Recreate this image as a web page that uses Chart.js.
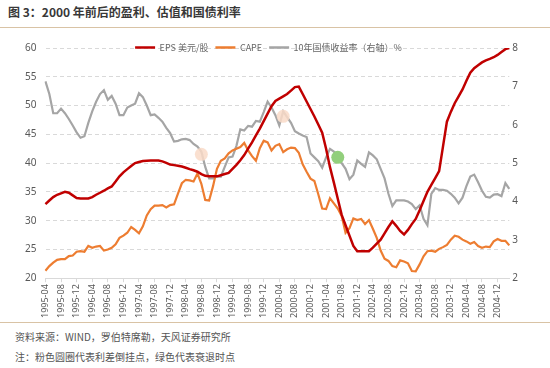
<!doctype html>
<html lang="zh-CN">
<head>
<meta charset="utf-8">
<title>图3 2000年前后的盈利、估值和国债利率</title>
<script src="https://cdn.jsdelivr.net/npm/chart.js"></script>
<style>
  html, body { margin: 0; padding: 0; background: #fff; }
  body { width: 550px; height: 368px; position: relative; overflow: hidden;
         font-family: "Noto Sans CJK SC", "Noto Sans", sans-serif; }
  #title { position: absolute; left: 8px; top: 3px; font-size: 12px; font-weight: bold; color: #383838; }
  .rule { position: absolute; left: 0; width: 550px; height: 1px; background: #d9c3a5; }
  #chartbox { position: absolute; left: 0; top: 30px; width: 550px; height: 290px; }
  .note { position: absolute; left: 15px; font-size: 10px; color: #555; }
</style>
</head>
<body>
<div id="title">图 3：2000 年前后的盈利、估值和国债利率</div>
<div class="rule" style="top:27px"></div>
<div id="chartbox"><canvas id="c"></canvas></div>
<div class="rule" style="top:322px"></div>
<div class="note" style="top:329px">资料来源：WIND，罗伯特席勒，天风证券研究所</div>
<div class="note" style="top:349px">注：粉色圆圈代表利差倒挂点，绿色代表衰退时点</div>
<script>
// monthly, 1995-04 .. 2005-03
const months = [];
for (let k = 0; k < 120; k++) {
  const m = (3 + k) % 12 + 1, y = 1995 + Math.floor((3 + k) / 12);
  months.push(y + '-' + (m < 10 ? '0' + m : m));
}

const eps = [32.86,33.5,34.1,34.5,34.75,35.0,34.85,34.4,33.95,33.87,
  33.87,33.87,34.1,34.5,34.85,35.2,35.6,35.95,36.8,37.7,
  38.4,38.95,39.5,40.0,40.2,40.35,40.42,40.44,40.44,40.44,
  40.3,40.05,39.75,39.65,39.55,39.4,39.2,38.95,38.75,38.5,
  38.1,37.8,37.7,37.7,37.7,37.9,38.1,38.3,39.0,39.7,
  40.5,41.4,42.5,43.6,44.8,46.0,47.3,48.6,49.9,50.8,
  51.2,51.6,52.0,52.6,53.2,53.3,52.0,50.7,49.4,48.1,
  46.7,45.3,42.5,39.3,36.6,33.8,31.0,29.2,27.4,25.6,
  24.7,24.7,24.7,24.7,25.3,26.0,26.7,27.8,28.9,29.9,
  29.1,28.2,27.6,28.4,29.4,30.3,31.8,33.4,35.0,36.2,
  37.4,38.6,42.9,47.2,48.9,50.4,51.6,52.8,54.3,55.7,
  56.5,57.0,57.5,57.85,58.1,58.4,58.8,59.3,59.8,60.0];

const cape = [21.3,22.1,22.7,23.2,23.3,23.3,23.85,23.95,24.6,24.7,
  24.6,25.6,25.3,25.5,25.6,24.8,25.0,25.3,25.9,27.0,
  27.4,27.9,28.9,28.4,27.8,29.0,30.9,32.0,32.6,32.6,
  32.7,32.3,32.7,32.85,34.7,36.5,37.1,37.0,36.8,38.2,
  36.4,33.6,33.5,36.0,39.0,40.4,40.8,41.7,42.2,42.5,
  42.8,43.5,42.2,41.2,40.4,42.6,43.9,43.6,42.2,43.0,
  43.3,41.9,42.4,42.7,42.6,41.8,39.8,38.5,37.3,36.9,
  34.6,32.1,32.0,33.9,33.0,32.1,30.8,27.9,28.7,30.4,
  30.1,30.3,29.4,30.1,28.6,27.0,24.8,23.4,23.0,22.1,
  21.9,23.1,22.9,22.6,21.25,21.2,22.4,23.8,24.7,24.8,
  24.6,25.1,25.4,25.8,26.7,27.4,27.2,26.7,26.4,26.0,
  26.3,25.6,25.3,25.5,25.4,26.4,26.8,26.5,26.5,25.7];

const tsy10 = [7.13,6.8,6.3,6.3,6.42,6.3,6.15,5.98,5.8,5.66,
  5.7,6.05,6.35,6.6,6.8,6.9,6.65,6.75,6.55,6.25,
  6.25,6.45,6.5,6.55,6.82,6.72,6.5,6.25,6.27,6.18,
  6.08,5.92,5.78,5.56,5.58,5.62,5.63,5.6,5.5,5.43,
  5.3,4.9,4.6,4.6,4.65,4.65,4.9,5.15,5.17,5.45,
  5.88,5.85,5.97,5.95,6.1,6.08,6.33,6.6,6.45,6.25,
  5.98,6.35,6.2,6.05,5.83,5.77,5.72,5.68,5.25,5.15,
  5.05,4.88,5.15,5.37,5.3,5.2,5.0,4.85,4.58,4.7,
  5.07,4.98,4.9,5.28,5.2,5.1,4.85,4.6,4.2,3.88,
  4.03,4.03,4.03,4.0,3.93,3.8,3.9,3.55,3.38,4.2,
  4.35,4.3,4.3,4.28,4.2,4.1,3.95,4.1,4.4,4.65,
  4.7,4.5,4.28,4.12,4.1,4.18,4.19,4.14,4.48,4.33];

// circles: inverted spread (pink) and recession (green), on right axis
const pinkIdx = [40, 61];
const pinkVal = [5.23, 6.22];
const greenIdx = [75];
const greenVal = [5.15];

function pointsAt(idx, val) {
  const arr = months.map(() => null);
  idx.forEach((k, j) => { arr[k] = val[j]; });
  return arr;
}

const gridGray = '#d9d9d9';
const tickGray = '#595959';

// legend overlaps the top of the plot a little, as in the original
const shrinkLegend = {
  id: 'shrinkLegend',
  beforeInit(chart) {
    const lg = chart.legend;
    const fit = lg.fit;
    lg.fit = function () {
      fit.bind(lg)();
      this.height = 12;
    };
    lg.draw = function () {
      if (this.options.display) this._draw();
    };
  }
};

new Chart(document.getElementById('c'), {
  type: 'line',
  data: {
    labels: months,
    datasets: [
      { label: 'pink', data: pointsAt(pinkIdx, pinkVal), yAxisID: 'y1', showLine: false,
        pointRadius: 6.5, pointBackgroundColor: 'rgba(249,218,200,0.85)', pointBorderWidth: 0 },
      { label: 'green', data: pointsAt(greenIdx, greenVal), yAxisID: 'y1', showLine: false,
        pointRadius: 6.5, pointBackgroundColor: '#92cf7c', pointBorderWidth: 0 },
      { label: 'EPS 美元/股', data: eps, yAxisID: 'y', borderColor: '#c00000',
        backgroundColor: '#c00000', borderWidth: 2.5, pointRadius: 0 },
      { label: 'CAPE', data: cape, yAxisID: 'y', borderColor: '#ed7d31',
        backgroundColor: '#ed7d31', borderWidth: 2.2, pointRadius: 0 },
      { label: '10年国债收益率（右轴）%', data: tsy10, yAxisID: 'y1', borderColor: '#a5a5a5',
        backgroundColor: '#a5a5a5', borderWidth: 2.2, pointRadius: 0 }
    ]
  },
  options: {
    responsive: true,
    maintainAspectRatio: false,
    animation: false,
    layout: { padding: { left: 16, right: 29, top: 6, bottom: 0 } },
    plugins: {
      legend: {
        display: true,
        labels: {
          filter: item => item.text !== 'pink' && item.text !== 'green',
          boxWidth: 20, boxHeight: 0, padding: 7, color: '#666',
          font: { size: 9, family: '"Noto Sans CJK SC", sans-serif' },
          generateLabels(chart) {
            return chart.data.datasets.map((d, i) => ({
              text: d.label, fillStyle: d.borderColor, strokeStyle: d.borderColor,
              lineWidth: 2.5, hidden: false, datasetIndex: i, fontColor: '#666'
            }));
          }
        }
      },
      tooltip: { enabled: false }
    },
    scales: {
      x: {
        grid: { display: true, drawOnChartArea: false, drawTicks: true, tickLength: 4, color: gridGray },
        border: { color: gridGray },
        ticks: {
          autoSkip: false, maxRotation: 90, minRotation: 90, color: tickGray, padding: 2,
          font: { size: 9, family: '"Noto Sans", sans-serif' },
          callback: function (v, i) { return i % 4 === 0 ? months[i] : null; }
        }
      },
      y: {
        position: 'left', min: 20, max: 60,
        grid: { color: gridGray, drawTicks: false },
        border: { display: true, color: 'rgba(0,0,0,0)', dash: [4, 3] },
        ticks: { stepSize: 5, color: tickGray, padding: 9, font: { size: 10, family: '"Noto Sans", sans-serif' } }
      },
      y1: {
        position: 'right', min: 2, max: 8,
        grid: { drawOnChartArea: false, drawTicks: false },
        border: { display: false },
        ticks: { stepSize: 1, color: tickGray, padding: 3, font: { size: 10, family: '"Noto Sans", sans-serif' } }
      }
    }
  },
  plugins: [shrinkLegend]
});
</script>
</body>
</html>
